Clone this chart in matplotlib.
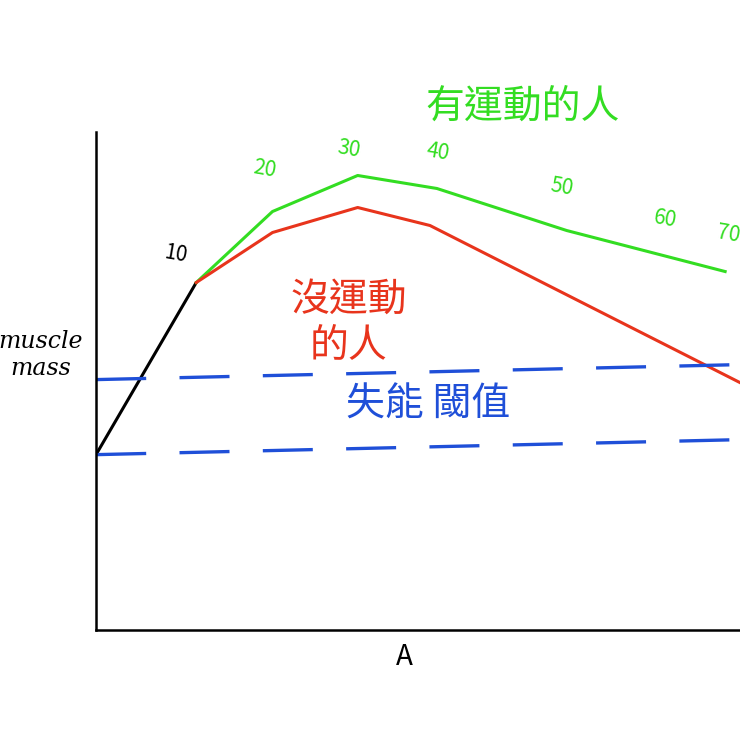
import matplotlib
matplotlib.use("Agg")
import matplotlib.pyplot as plt

plt.rcParams['font.family'] = ['Noto Sans CJK TC', 'DejaVu Sans']

# data (age-like x units, muscle mass units)
young_x = [0.1, 10.1]
young_y = [35.4, 69.4]
active_x = [10.1, 17.8, 26.4, 34.4, 47.5, 63.5]
active_y = [69.4, 83.6, 90.8, 88.2, 79.8, 71.6]
inactive_x = [10.1, 17.8, 26.4, 33.7, 65.0]
inactive_y = [69.4, 79.4, 84.4, 80.8, 49.4]
thresh_x = [0.0, 65.0]
thresh_upper = [50.0, 53.0]
thresh_lower = [35.0, 38.0]
age_labels = ["10", "20", "30", "40", "50", "60", "70"]
age_label_x = [8.0, 17.0, 25.5, 34.5, 47.0, 57.5, 63.8]
age_label_y = [75.0, 92.0, 96.0, 95.5, 88.5, 82.0, 79.0]

fig = plt.figure(figsize=(7.4, 7.4), dpi=100)
ax = fig.add_axes([0.13, 0.149, 0.87, 0.672])
ax.plot(young_x, young_y, color='black', lw=2.2, solid_capstyle='round')
ax.plot(active_x, active_y, color='#33dd22', lw=2.2)
ax.plot(inactive_x, inactive_y, color='#e8341c', lw=2.2)
ax.plot(thresh_x, thresh_upper, color='#1f4fd8', lw=2.4, dashes=(15, 10))
ax.plot(thresh_x, thresh_lower, color='#1f4fd8', lw=2.4, dashes=(15, 10))
for lab, x, y in zip(age_labels, age_label_x, age_label_y):
    c = 'black' if lab == "10" else '#33dd22'
    ax.text(x, y, lab, color=c, fontsize=15, ha='center', va='center', rotation=-10)
ax.text(43, 104.5, "有運動的人", color='#33dd22', fontsize=28, ha='center', va='center', clip_on=False)
ax.text(25.5, 66, "沒運動", color='#e8341c', fontsize=28, ha='center', va='center')
ax.text(25.5, 57, "的人", color='#e8341c', fontsize=28, ha='center', va='center')
ax.text(33.5, 45, "失能 閾值", color='#1f4fd8', fontsize=28, ha='center', va='center')
ax.set_xlim(0, 65)
ax.set_ylim(0, 99.4)
ax.spines['top'].set_visible(False)
ax.spines['right'].set_visible(False)
for s in ('left', 'bottom'):
    ax.spines[s].set_linewidth(1.8)
ax.set_xticks([])
ax.set_yticks([])
fig.text(0.055, 0.52, "muscle\nmass", fontsize=17, ha='center', va='center',
         family=['DejaVu Serif'], style='italic')
fig.text(0.547, 0.112, "A", fontsize=20, ha='center', va='center')
fig.savefig("out.png", dpi=100, facecolor='white')
